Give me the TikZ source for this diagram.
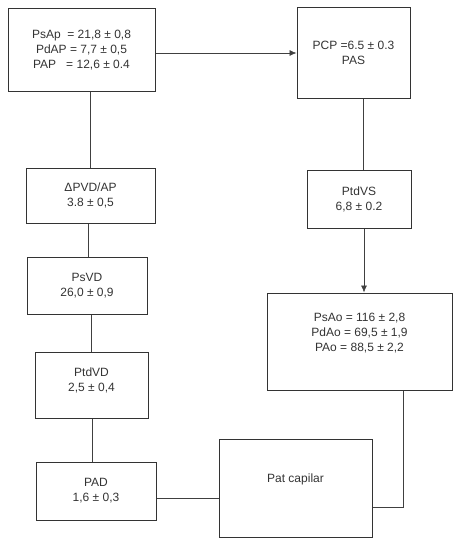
\documentclass[tikz,border=0pt]{standalone}
\usepackage{fontspec}
\setmainfont{Liberation Sans}
\usepackage{tikz}
\usetikzlibrary{arrows.meta,positioning,calc}
\tikzset{
  box/.style={draw=black!80, line width=1pt, inner sep=2pt, align=center,
              font=\fontsize{12}{15}\selectfont, text=black!80},
  arrow/.style={-{Latex[length=7pt,width=6pt]}, draw=black!75, line width=0.7pt},
  link/.style={draw=black!75, line width=0.7pt}
}

\begin{document}
\begin{tikzpicture}[x=1pt, y=-1pt]
  \useasboundingbox (0,0) rectangle (460,546);
  % left column
  \node[box, minimum width=147pt, minimum height=83pt] (pap) at (81.5,50)
    {PsAp\ \ = 21,8 ± 0,8\\PdAP = 7,7 ± 0,5\\PAP\ \ \ = 12,6 ± 0.4};
  \node[box, minimum width=129pt, minimum height=55pt] (dpvd) at (90.5,195.5)
    {ΔPVD/AP\\3.8 ± 0,5};
  \node[box, minimum width=120pt, minimum height=57pt] (psvd) at (87,285.5)
    {PsVD\\26,0 ± 0,9};
  \node[box, minimum width=113pt, minimum height=66pt, text depth=10pt] (ptdvd) at (91.5,385)
    {PtdVD\\2,5 ± 0,4};
  \node[box, minimum width=120pt, minimum height=58pt] (pad) at (96,491)
    {PAD\\1,6 ± 0,3};
  % right column
  \node[box, minimum width=113pt, minimum height=91pt] (pcp) at (353.5,52.5)
    {PCP =6.5 ± 0.3\\PAS};
  \node[box, minimum width=104pt, minimum height=58pt] (ptdvs) at (359,199)
    {PtdVS\\6,8 ± 0.2};
  \node[box, minimum width=185pt, minimum height=97pt, text depth=18pt] (psao) at (359.5,341.5)
    {PsAo = 116 ± 2,8\\PdAo = 69,5 ± 1,9\\PAo = 88,5 ± 2,2};
  \node[box, minimum width=153pt, minimum height=98pt, text depth=20pt] (pat) at (295.5,488)
    {Pat capilar};

  \coordinate (tap) at ([xshift=43.5pt]psao.south);

  \draw[arrow] ([yshift=-3pt]pap.east) -- ([yshift=-3pt]pap.east -| pcp.west);
  \draw[link] (dpvd.north) -- (dpvd.north |- pap.south);
  \draw[link] ([xshift=-2pt]dpvd.south) -- ([xshift=-2pt]dpvd.south |- psvd.north);
  \draw[link] (ptdvd.north) -- (ptdvd.north |- psvd.south);
  \draw[link] ([xshift=0.5pt]ptdvd.south) -- ([xshift=0.5pt]ptdvd.south |- pad.north);
  \draw[link] ([yshift=-7pt]pad.east) -- ([yshift=-7pt]pad.east -| pat.west);
  \draw[link] ([xshift=4pt]ptdvs.north) -- ([xshift=4pt]ptdvs.north |- pcp.south);
  \draw[arrow] ([xshift=5pt]ptdvs.south) -- ([xshift=5pt]ptdvs.south |- psao.north);
  \draw[link] ([yshift=-19pt]pat.east) -| (tap);
\end{tikzpicture}
\end{document}
